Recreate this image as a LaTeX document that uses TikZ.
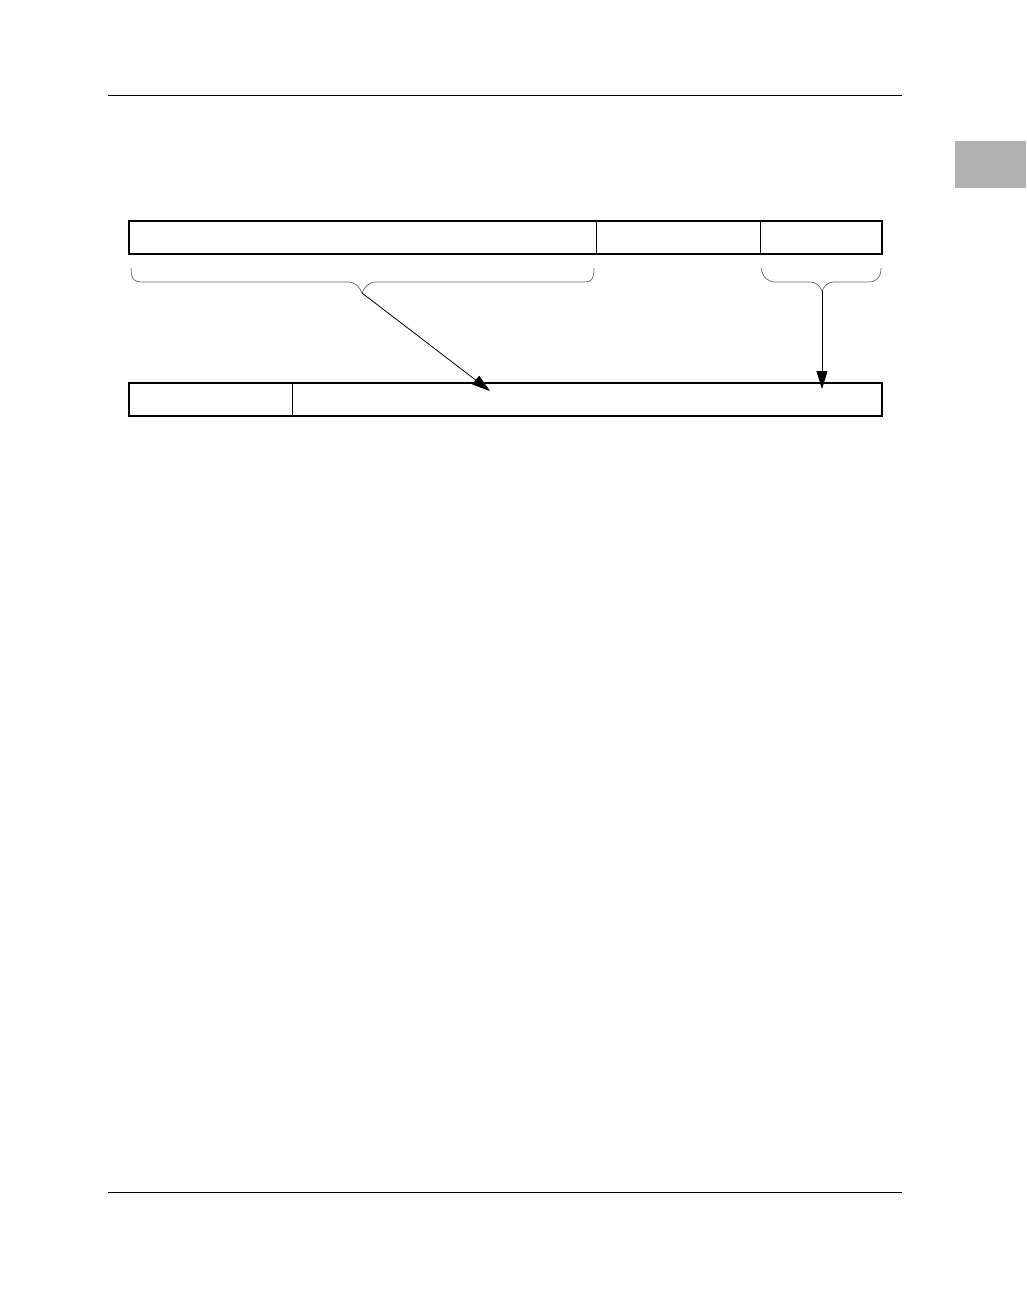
\documentclass[tikz,border=0pt]{standalone}
\usetikzlibrary{arrows.meta}
\begin{document}
\begin{tikzpicture}[x=1pt,y=-1pt,
  cell/.style={draw=black,line width=1pt,inner sep=0pt,outer sep=0pt,rectangle,anchor=north west},
  outline/.style={draw=black,line width=1.8pt},
  rule/.style={draw=black,line width=0.8pt},
  bracepath/.style={draw=black!60,line width=0.7pt},
  pointer/.style={draw=black,line width=0.8pt,-{Triangle[length=18pt,width=11pt]}}]
\useasboundingbox (0,0) rectangle (1026,1296);
% header / footer rules and tab
\draw[rule] (108,95) -- (902,95);
\draw[rule] (108,1192) -- (902,1192);
\fill[black!30] (955,141) rectangle (1026,188);
% top register
\node[cell,minimum width=467pt,minimum height=33pt] (t1) at (129,221) {};
\node[cell,minimum width=164pt,minimum height=33pt] (t2) at (596,221) {};
\node[cell,minimum width=122pt,minimum height=33pt] (t3) at (760,221) {};
\draw[outline] (t1.north west) rectangle (t3.south east);
% bottom register
\node[cell,minimum width=163pt,minimum height=33pt] (b1) at (129,383) {};
\node[cell,minimum width=590pt,minimum height=33pt] (b2) at (292,383) {};
\draw[line width=1.3pt] (b1.north west) rectangle (b2.south east);
% braces
\coordinate (tipA) at (362,293);
\coordinate (tipB) at (822,291);
\draw[bracepath] (131,268) .. controls (131,282) and (136,282) .. (146,282)
  -- (348,282) .. controls (356,282) and (360,288) .. (tipA)
  .. controls (364,288) and (368,282) .. (376,282)
  -- (580,282) .. controls (590,282) and (594,282) .. (594,268);
\draw[bracepath] (761,268) .. controls (763,278) and (768,282) .. (776,282)
  -- (810,282) .. controls (816,282) and (820,286) .. (tipB)
  .. controls (824,286) and (828,282) .. (834,282)
  -- (868,282) .. controls (876,282) and (881,278) .. (881,268);
% pointers
\coordinate (endA) at (490,391);
\coordinate (endB) at (822,389);
\draw[pointer] (tipA) -- (endA);
\draw[pointer] (tipB) -- (endB);
\end{tikzpicture}
\end{document}
